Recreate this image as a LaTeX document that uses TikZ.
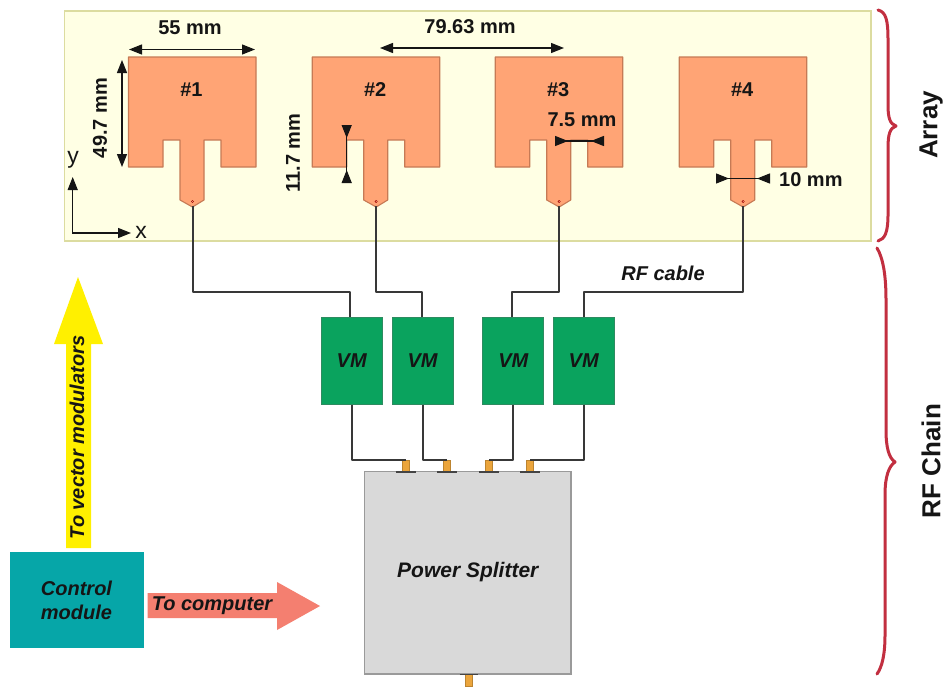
\documentclass[tikz,border=0pt]{standalone}
\usepackage{fontspec}
\setmainfont{Liberation Sans}
\usetikzlibrary{arrows.meta,calc}
\definecolor{bgfill}{HTML}{FFFFE4}
\definecolor{bgline}{HTML}{DCDCA0}
\definecolor{patchfill}{HTML}{FFA475}
\definecolor{patchline}{HTML}{C67A55}
\definecolor{vmfill}{HTML}{0AA35E}
\definecolor{vmline}{HTML}{2E8B60}
\definecolor{teal}{HTML}{06A6A8}
\definecolor{salmon}{HTML}{F47F70}
\definecolor{yell}{HTML}{FFF000}
\definecolor{splitfill}{HTML}{D9D9D9}
\definecolor{splitline}{HTML}{9A9A9A}
\definecolor{gold}{HTML}{EBA53C}
\definecolor{bracered}{HTML}{C22F40}
\definecolor{ink}{HTML}{151515}
\tikzset{
  x=1pt,y=-1pt,
  lbl/.style={inner sep=0pt,text=ink,font=\fontsize{20}{24}\selectfont\bfseries},
  ilbl/.style={inner sep=0pt,text=ink,align=center,font=\fontsize{20}{24}\selectfont\bfseries\itshape},
  big/.style={inner sep=0pt,text=ink,rotate=90,font=\fontsize{26}{30}\selectfont\bfseries},
  axlbl/.style={inner sep=0pt,text=ink,font=\fontsize{23}{26}\selectfont},
  patch/.style={draw=patchline,fill=patchfill,line width=1.1pt,line join=round},
  cable/.style={draw=ink!85,line width=2pt,line join=round},
  dim/.style={draw=ink,line width=1.2pt,{Triangle[length=13pt,width=10pt]}-{Triangle[length=13pt,width=10pt]}},
  dimin/.style={draw=ink,line width=1.2pt,{Triangle[length=13pt,width=10pt,reversed]}-{Triangle[length=13pt,width=10pt,reversed]}},
  vmbox/.style={draw=vmline,fill=vmfill,line width=0.8pt,minimum width=61pt,minimum height=86.5pt,inner sep=0pt,text=ink,font=\fontsize{20}{24}\selectfont\bfseries\itshape},
  conn/.style={draw=gold!80!black,fill=gold,line width=0.4pt,minimum width=7pt,minimum height=11.5pt,inner sep=0pt},
  brace/.style={draw=bracered,line width=3pt,line cap=round,line join=round},
}
\begin{document}
\begin{tikzpicture}
\useasboundingbox (0,0) rectangle (944,686);
\fill[white] (0,0) rectangle (944,686);
% array background
\draw[draw=bgline,fill=bgfill,line width=1.4pt] (64.5,11) rectangle (871,241);
% patches
\foreach \i/\dx in {1/0,2/183.7,3/366.7,4/550.7}{
  \begin{scope}[shift={(\dx,0)}]
    \draw[patch] (128.5,57) -- (256,57) -- (256,167) -- (221,167) -- (221,140) -- (204,140)
      -- (204,200) -- (192.5,207) -- (180,200) -- (180,140) -- (163,140) -- (163,167) -- (128.5,167) -- cycle;
    \coordinate (tip\i) at (192.5,206);
    \draw[draw=red!60!black,line width=0.4pt] (192.5,201.5) circle (1.2);
    \node[lbl] (num\i) at (191.5,90) {\#\i};
  \end{scope}
}
% dimensions
\coordinate (da1) at (129,49.5); \coordinate (da2) at (255,49.5);
\draw[dim] (da1) -- (da2);
\node[lbl] (t55) at (190,28) {55 mm};
\coordinate (db1) at (122,60); \coordinate (db2) at (122,167);
\draw[dim] (db1) -- (db2);
\node[lbl,rotate=90] (t497) at (100,118) {49.7 mm};
\coordinate (dc1) at (380,48); \coordinate (dc2) at (564,48);
\draw[dim] (dc1) -- (dc2);
\node[lbl] (t7963) at (470,27) {79.63 mm};
\coordinate (dd1) at (346.7,125); \coordinate (dd2) at (346.7,183);
\draw[dimin] (dd1) -- (dd2);
\node[lbl,rotate=90] (t117) at (293,153) {11.7 mm};
\coordinate (de1) at (555,141); \coordinate (de2) at (604,141);
\draw[dimin] (de1) -- (de2);
\node[lbl] (t75) at (582,120) {7.5 mm};
\coordinate (df1) at (716,178.5); \coordinate (df2) at (770,178.5);
\draw[dimin] (df1) -- (df2);
\node[lbl,anchor=west] (t10) at (779,180) {10 mm};
% axes
\coordinate (ax0) at (72.7,233); \coordinate (axy) at (72.7,177); \coordinate (axx) at (131,233);
\draw[draw=ink,line width=1.2pt,{Triangle[length=13pt,width=10pt]}-{Triangle[length=13pt,width=10pt]}] (axy) -- (ax0) -- (axx);
\node[axlbl] (ly) at (73,160) {y};
\node[axlbl] (lx) at (141,232) {x};
% braces
\draw[brace] (878,10) .. controls (886,12) and (888,20) .. (888,40) -- (888,105)
  .. controls (888,118) and (890,124) .. (896,126) .. controls (890,128) and (888,134) .. (888,148)
  -- (888,215) .. controls (888,232) and (885,239) .. (878,241);
\draw[brace] (877,248) .. controls (883,258) and (886,275) .. (886,300) -- (886,430)
  .. controls (886,448) and (889,458) .. (895,462) .. controls (889,466) and (885,476) .. (885,495)
  -- (885,635) .. controls (885,655) and (882,667) .. (877,674);
\node[big] (larr) at (931,125) {Array};
\node[big] (lrf) at (931,461) {RF Chain};
% VMs
\node[vmbox] (vm1) at (351.7,361) {VM};
\node[vmbox] (vm2) at (422.5,361) {VM};
\node[vmbox] (vm3) at (513.3,361) {VM};
\node[vmbox] (vm4) at (583.7,361) {VM};
% splitter
\node[draw=splitline,fill=splitfill,line width=1.2pt,minimum width=206.5pt,minimum height=202.5pt,inner sep=0pt,text=ink,font=\fontsize{21}{24}\selectfont\bfseries\itshape] (split) at (467.8,572.8) {\raisebox{5pt}{Power Splitter}};
% connectors
\foreach \n/\cx in {a/405.7,b/447,c/489,d/530}{
  \node[conn] (c\n) at (\cx,466) {};
  \draw[draw=ink!80,line width=1.2pt] ($(c\n.south)+(-10,0)$) -- ($(c\n.south)+(10,0)$);
}
\node[conn,minimum height=12pt] (cin) at (468.5,680.5) {};
\draw[draw=ink!80,line width=1.2pt] ($(cin.north)+(-9,0)$) -- ($(cin.north)+(9,0)$);
% cables
\coordinate (bend) at (0,291.5);
\draw[cable] (tip1) -- (tip1 |- bend) -- ([xshift=-1.5pt]vm1.north |- bend) -- ([xshift=-1.5pt]vm1.north);
\draw[cable] (tip2) -- (tip2 |- bend) -- ([xshift=-1pt]vm2.north |- bend) -- ([xshift=-1pt]vm2.north);
\draw[cable] (tip3) -- (tip3 |- bend) -- ([xshift=-1.5pt]vm3.north |- bend) -- ([xshift=-1.5pt]vm3.north);
\draw[cable] (tip4) -- (tip4 |- bend) -- (vm4.north |- bend) -- (vm4.north);
\draw[cable] (vm1.south) |- (ca.north);
\draw[cable] (vm2.south) |- (cb.north);
\draw[cable] (vm3.south) |- (cc.north);
\draw[cable] (vm4.south) |- (cd.north);
\node[ilbl] (lcable) at (663,273) {RF cable};
% control module and arrows
\node[fill=teal,minimum width=134pt,minimum height=96pt,inner sep=0pt,text=ink,align=center,font=\fontsize{20}{24}\selectfont\bfseries\itshape] (ctrl) at (76.5,600) {Control\\module};
\fill[yell] (66,548) -- (66,344) -- (54,344) -- (78,277) -- (103,344) -- (91,344) -- (91,548) -- cycle;
\fill[salmon] (147.5,593) -- (277,593) -- (277,582) -- (320,606) -- (277,630) -- (277,618) -- (147.5,618) -- cycle;
\node[ilbl] (lcomp) at (212,606) {To computer};
\node[ilbl,rotate=90] (lvec) at (77,437.5) {To vector modulators};
\end{tikzpicture}
\end{document}
